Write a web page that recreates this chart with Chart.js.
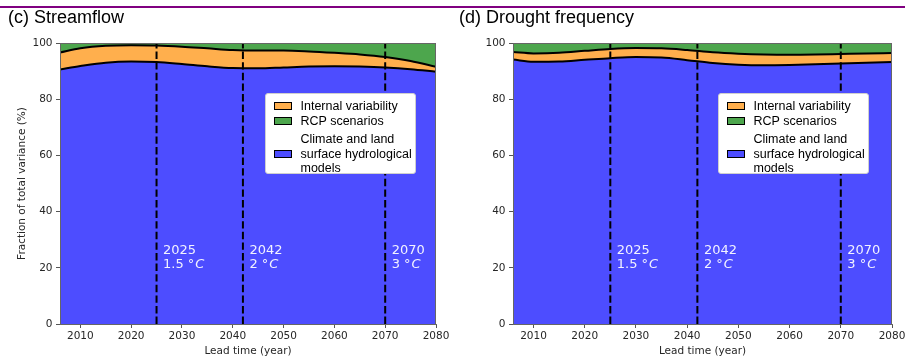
<!DOCTYPE html>
<html>
<head>
<meta charset="utf-8">
<script src="https://cdn.jsdelivr.net/npm/chart.js@4.4.1/dist/chart.umd.min.js"></script>
<style>
body{margin:0;background:#fff;}
#wrap{position:relative;width:905px;height:360px;overflow:hidden;}
.rule{position:absolute;left:0;top:6px;width:905px;height:2px;background:#800080;}
.title{position:absolute;top:8px;font-family:"Liberation Sans",Arial,sans-serif;font-size:18px;line-height:18px;color:#000;white-space:nowrap;z-index:2;}
canvas{position:absolute;top:0;}
.legend{position:absolute;top:93px;width:151px;height:81px;box-sizing:border-box;border:1px solid #cfcfcf;border-radius:3px;background:#fff;z-index:2;font-family:"Liberation Sans",Arial,sans-serif;font-size:12.5px;color:#000;}
.legend .sw{position:absolute;left:8px;width:18px;height:8px;box-sizing:border-box;border:1px solid #000;}
.legend .tx{position:absolute;left:34.5px;height:14px;line-height:14px;white-space:nowrap;}
</style>
</head>
<body>
<div id="wrap">
  <div class="rule"></div>
  <canvas id="streamflow" width="450" height="360" style="left:0px"></canvas>
  <canvas id="drought" width="450" height="360" style="left:455px"></canvas>
  <div class="title" style="left:8px">(c) Streamflow</div>
  <div class="title" style="left:459px">(d) Drought frequency</div>
</div>
<script>
// lead time (years) and axis ticks
const years = [2006, 2010, 2015, 2020, 2025, 2030, 2035, 2040, 2045, 2050, 2055, 2060, 2065, 2070, 2075, 2080];
const xTicks = [2010, 2020, 2030, 2040, 2050, 2060, 2070, 2080];
const yTicks = [0, 20, 40, 60, 80, 100];

// (c) streamflow, fraction of total variance (%)
const streamModels   = [90.6, 91.8, 93.0, 93.4, 93.2, 92.5, 91.7, 91.1, 91.0, 91.3, 91.6, 91.7, 91.6, 91.3, 90.7, 89.8];
const streamInternal = [6.0, 6.3, 6.0, 5.8, 5.9, 6.2, 6.4, 6.4, 6.3, 6.0, 5.4, 4.8, 4.3, 3.7, 2.9, 1.7];
const streamScenario = [3.4, 1.9, 1.0, 0.8, 0.9, 1.3, 1.9, 2.5, 2.7, 2.7, 3.0, 3.5, 4.1, 5.0, 6.4, 8.5];

// (d) drought frequency
const droughtModels   = [94.1, 93.3, 93.4, 94.0, 94.6, 95.0, 94.8, 93.9, 92.9, 92.3, 92.1, 92.2, 92.4, 92.7, 93.0, 93.2];
const droughtInternal = [2.7, 3.0, 3.1, 3.2, 3.3, 3.2, 3.3, 3.6, 3.8, 3.9, 3.8, 3.6, 3.5, 3.4, 3.3, 3.2];
const droughtScenario = [3.2, 3.7, 3.5, 2.8, 2.1, 1.8, 1.9, 2.5, 3.3, 3.8, 4.1, 4.2, 4.1, 3.9, 3.7, 3.6];

// warming level crossing years
const warmingYears = [2025, 2042, 2070];
const warmingLevels = ['1.5', '2', '3'];

const seriesNames = ['Internal variability', 'RCP scenarios', 'Climate and land\nsurface hydrological\nmodels'];
const colors = {models: '#4d4dff', internal: '#ffaf4d', scenario: '#4da64d'};

const tickFont = {family: '"DejaVu Sans", sans-serif', size: 10.5};
const labelFont = {family: '"DejaVu Sans", sans-serif', size: 10.5};

const frame = {
    id: 'frame',
    afterDatasetsDraw(chart) {
        const a = chart.chartArea;
        const ctx = chart.ctx;
        ctx.save();
        ctx.strokeStyle = '#666';
        ctx.lineWidth = 1;
        ctx.strokeRect(Math.round(a.left) + 0.5, Math.round(a.top) + 0.5, Math.round(a.right - a.left) - 1, Math.round(a.bottom - a.top));
        ctx.restore();
    }
};

const warmingText = {
    id: 'warmingText',
    afterDatasetsDraw(chart) {
        const ctx = chart.ctx;
        const {x, y} = chart.scales;
        ctx.save();
        ctx.fillStyle = '#f2f2ff';
        ctx.textBaseline = 'alphabetic';
        warmingYears.forEach((yr, i) => {
            const px = x.getPixelForValue(yr) + 6.5;
            const py = y.getPixelForValue(24.8);
            ctx.font = '13px "DejaVu Sans"';
            ctx.fillText(String(yr), px, py);
            const head = warmingLevels[i] + ' °';
            ctx.fillText(head, px, py + 14);
            const w = ctx.measureText(head).width;
            ctx.font = 'italic 13px "DejaVu Sans"';
            ctx.fillText('C', px + w + 1, py + 14);
        });
        ctx.restore();
    }
};

function makeChart(id, models, internal, scenario, axisWidth, padRight, showTitle) {
    const lower = years.map((yr, i) => ({x: yr, y: models[i]}));
    const middle = years.map((yr, i) => ({x: yr, y: models[i] + internal[i]}));
    const upper = years.map((yr, i) => ({x: yr, y: models[i] + internal[i] + scenario[i]}));

    const datasets = [
        {data: lower, backgroundColor: colors.models, borderColor: '#000', borderWidth: 2, fill: 'origin', cubicInterpolationMode: 'monotone', pointRadius: 0},
        {data: middle, backgroundColor: colors.internal, borderColor: '#000', borderWidth: 2, fill: '-1', cubicInterpolationMode: 'monotone', pointRadius: 0},
        {data: upper, backgroundColor: colors.scenario, borderColor: colors.scenario, borderWidth: 0, fill: '-1', cubicInterpolationMode: 'monotone', pointRadius: 0}
    ];
    warmingYears.forEach(yr => {
        datasets.push({
            data: [{x: yr, y: 0}, {x: yr, y: 100}],
            borderColor: '#000', borderWidth: 2, borderDash: [7.4, 3.2],
            fill: false, pointRadius: 0, order: -1
        });
    });

    return new Chart(document.getElementById(id), {
        type: 'line',
        data: {datasets: datasets},
        options: {
            responsive: false,
            animation: false,
            devicePixelRatio: 1,
            layout: {padding: {top: 43, right: padRight, left: 0, bottom: 0}},
            plugins: {legend: {display: false}, tooltip: {enabled: false}},
            scales: {
                x: {
                    type: 'linear',
                    min: 2006,
                    max: 2080,
                    afterBuildTicks: s => { s.ticks = xTicks.map(v => ({value: v})); },
                    afterFit: s => { s.height = 36; s.paddingLeft = 0; s.paddingRight = 0; },
                    ticks: {font: tickFont, color: '#262626', padding: 2, maxRotation: 0, autoSkip: false, callback: v => String(v)},
                    grid: {drawOnChartArea: false, tickLength: 4, tickColor: '#555'},
                    border: {color: '#666', width: 1},
                    title: {display: true, text: 'Lead time (year)', font: labelFont, color: '#262626', padding: {top: 0, bottom: 2.7}}
                },
                y: {
                    min: 0,
                    max: 100,
                    afterBuildTicks: s => { s.ticks = yTicks.map(v => ({value: v})); },
                    afterFit: s => { s.width = axisWidth; s.paddingTop = 0; s.paddingBottom = 0; },
                    ticks: {font: tickFont, color: '#262626', padding: 3.5, callback: v => String(v)},
                    grid: {drawOnChartArea: false, tickLength: 4, tickColor: '#555'},
                    border: {color: '#666', width: 1},
                    title: {display: showTitle, text: 'Fraction of total variance (%)', font: labelFont, color: '#262626', padding: {top: 16.2, bottom: 0}}
                }
            }
        },
        plugins: [warmingText, frame]
    });
}

function makeLegend(left) {
    const box = document.createElement('div');
    box.className = 'legend';
    box.style.left = left + 'px';
    const entries = [
        {name: seriesNames[0], color: colors.internal, center: 12.2},
        {name: seriesNames[1], color: colors.scenario, center: 27.2},
        {name: seriesNames[2], color: colors.models, center: 59.5}
    ];
    entries.forEach(e => {
        const sw = document.createElement('div');
        sw.className = 'sw';
        sw.style.background = e.color;
        sw.style.top = (e.center - 4) + 'px';
        box.appendChild(sw);
        const lines = e.name.split('\n');
        lines.forEach((ln, k) => {
            const t = document.createElement('div');
            t.className = 'tx';
            t.textContent = ln;
            const c = e.center + (k - (lines.length - 1) / 2) * 14.4;
            t.style.top = (c - 7) + 'px';
            box.appendChild(t);
        });
    });
    document.getElementById('wrap').appendChild(box);
}

makeChart('streamflow', streamModels, streamInternal, streamScenario, 60, 14, true);
makeChart('drought', droughtModels, droughtInternal, droughtScenario, 58, 13, false);
makeLegend(265);
makeLegend(718);
</script>
</body>
</html>
